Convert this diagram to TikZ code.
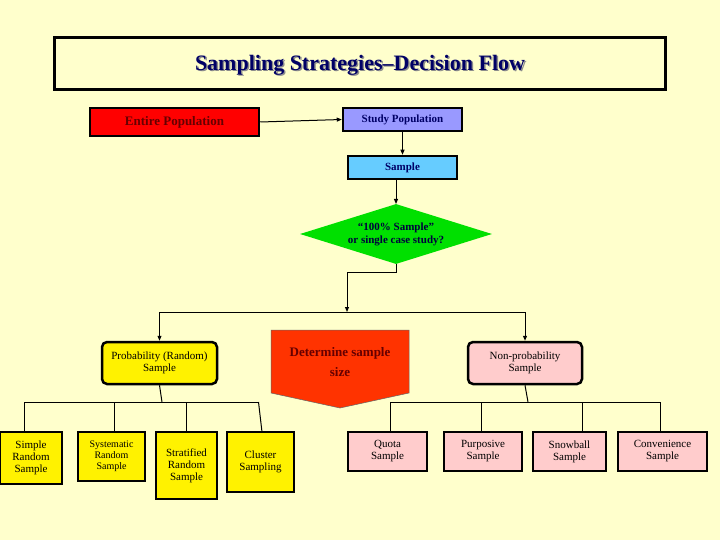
\documentclass[tikz,border=0pt]{standalone}
\usepackage{fontspec}
\setmainfont{Liberation Serif}
\usetikzlibrary{shapes.geometric,arrows.meta}
\definecolor{bg}{HTML}{FFFFCC}
\definecolor{navy}{HTML}{000066}
\definecolor{dred}{HTML}{660000}
\definecolor{pinkc}{HTML}{FFCCCC}
\definecolor{studyc}{HTML}{9999FF}
\definecolor{sampc}{HTML}{66CCFF}
\definecolor{detc}{HTML}{FF3300}
\definecolor{grn}{HTML}{00E000}
\tikzset{
 bx/.style={draw=black,line width=2.5pt,inner sep=1pt,align=center,font=\fontsize{11}{12}\selectfont},
 ylw/.style={bx,fill=yellow},
 pnk/.style={bx,fill=pinkc},
 ln/.style={line width=1pt},
 ar/.style={ln,-{Triangle[length=5pt,width=4pt]}},
}
\newcommand{\bxat}[6]{\node[#1,minimum width=#4-#2,minimum height=#5-#3] (#6) at ({(#2+#4)/2},{(#3+#5)/2})}
\begin{document}
\begin{tikzpicture}[x=1pt,y=-1pt]
\fill[bg] (0,0) rectangle (720,540);
\useasboundingbox (0,0) rectangle (720,540);
\node[draw=black,line width=3pt,minimum width=611,minimum height=52,inner sep=0] (title) at (360,63.5) {};
\node[text=black!45,font=\bfseries\fontsize{22}{24}\selectfont] at (361.5,66.5) {Sampling Strategies--Decision Flow};
\node[text=navy,font=\bfseries\fontsize{22}{24}\selectfont] at (360,65) {Sampling Strategies--Decision Flow};
\bxat{bx,fill=red,text=dred,font=\bfseries\fontsize{13}{14}\selectfont}{90}{108}{259}{136}{ent} {Entire Population};
\bxat{bx,fill=studyc,text=navy,font=\bfseries\fontsize{11}{12}\selectfont}{343}{108}{462}{131}{study} {Study Population};
\bxat{bx,fill=sampc,text=navy,font=\bfseries\fontsize{11}{12}\selectfont}{348}{156}{457}{179}{samp} {Sample};
\node[diamond,fill=grn,draw=none,minimum width=192,minimum height=60,inner sep=0,aspect=3.2,align=center,text=navy!60!black,font=\bfseries\fontsize{11}{13}\selectfont] (dia) at (396,234) {“100\% Sample”\\or single case study?};
\draw[ar] (ent.east) -- (study.west);
\draw[ar] (study.south) -- (study.south|-samp.north);
\draw[ar] (396,179) -- (396,204);
\bxat{ylw,rounded corners=5pt}{102}{342}{217}{384}{prob} {Probability (Random)\\Sample};
\bxat{pnk,rounded corners=5pt}{468}{342}{582}{384}{nonp} {Non-probability\\Sample};
\coordinate (j1) at (396,272);
\coordinate (j2) at (347,272);
\coordinate (j3) at (347,312);
\draw[ln] (dia.south) -- (j1) -- (j2);
\draw[ar] (j2) -- (j3);
\draw[ln] (prob.north|-j3) -- (nonp.north|-j3);
\draw[ar] (prob.north|-j3) -- (prob.north);
\draw[ar] (nonp.north|-j3) -- (nonp.north);
\filldraw[fill=detc,draw=black!60,line width=0.5pt] (271,330)--(409,330)--(409,393)--(340,408)--(271,393)--cycle;
\node[text=dred,font=\bfseries\fontsize{13}{20}\selectfont,align=center] (det) at (340,362) {Determine sample\\size};
\bxat{ylw}{0}{432}{62}{484}{srs} {Simple\\Random\\Sample};
\bxat{ylw,font=\fontsize{10}{11}\selectfont}{78}{432}{145}{481}{sys} {Systematic\\Random\\Sample};
\bxat{ylw}{156}{432}{217}{499}{str} {Stratified\\Random\\Sample};
\bxat{ylw}{227}{432}{294}{492}{clu} {Cluster\\Sampling};
\bxat{pnk}{348}{432}{427}{471}{quo} {Quota\\Sample};
\bxat{pnk}{444}{432}{522}{471}{pur} {Purposive\\Sample};
\bxat{pnk}{533}{432}{606}{471}{sno} {Snowball\\Sample};
\bxat{pnk}{618}{432}{707}{471}{con} {Convenience\\Sample};
\coordinate (pb) at (162,402);
\draw[ln] (prob.south) -- (pb);
\draw[ln] (24,402) -- (258.5,402);
\draw[ln] (24,402) -- (srs.north-|24,0);
\draw[ln] (114,402) -- (114,432);
\draw[ln] (186,402) -- (186,432);
\draw[ln] (258.5,402) -- (262,432);
\draw[ln] (nonp.south) -- (528,402);
\draw[ln] (390,402) -- (660,402);
\foreach \x in {390,481,582,660}{\draw[ln] (\x,402) -- (\x,432);}
\end{tikzpicture}
\end{document}
